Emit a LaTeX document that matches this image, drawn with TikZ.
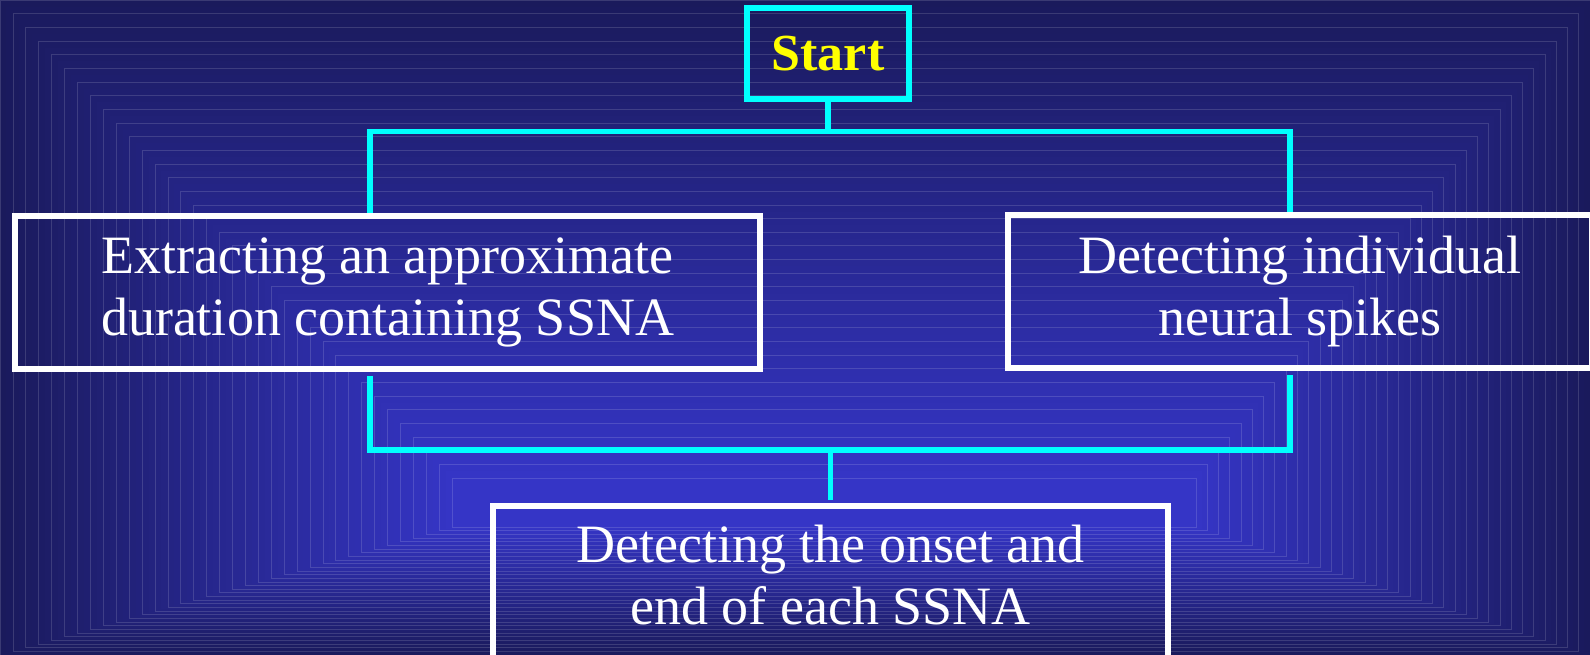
\documentclass[tikz,border=0pt]{standalone}
\usepackage{fontspec}
\setmainfont{Liberation Serif}
\usetikzlibrary{positioning}

\definecolor{bgout}{HTML}{1A1A5C}
\definecolor{bgin}{HTML}{3535C6}
\definecolor{linkcyan}{HTML}{00FFFF}
\definecolor{startyellow}{HTML}{FFFF00}

\begin{document}
\begin{tikzpicture}[x=1pt,y=-1pt,
    whitebox/.style={draw=white,line width=5.5pt,align=center,text=white,
        font=\fontsize{54}{62}\selectfont,inner sep=0pt},
    boxtext/.style={align=center,text=white,font=\fontsize{54}{62}\selectfont},
    startbox/.style={draw=linkcyan,line width=5.5pt,text=startyellow,
        font=\fontsize{52}{60}\selectfont\bfseries,
        minimum width=162pt,minimum height=91pt,inner sep=0pt},
    link/.style={draw=linkcyan,line width=5.5pt}]
    \useasboundingbox (0,0) rectangle (1590,655);
    \clip (0,0) rectangle (1590,655);
    %% background, rectangle gradient
    \foreach \i [evaluate=\i as \s using \i/70, evaluate=\i as \p using 100*\i/70] in {0,...,70} {
        \fill[bgin!\p!bgout] ({452*\s},{478*\s}) rectangle ({1590-394*\s},{655-128*\s});
    }
    \foreach \i [evaluate=\i as \s using \i/35] in {0,...,35} {
        \draw[white,opacity=0.14,line width=0.7pt] ({452*\s},{478*\s}) rectangle ({1590-394*\s},{655-128*\s});
    }
    %% boxes
    \node[startbox] (start) at (828,53.5) {Start};
    \node[whitebox,minimum width=745pt,minimum height=153pt] (extract) at (387.5,292.5)
        {Extracting an approximate\\duration containing SSNA};
    \node[whitebox,minimum width=584pt,minimum height=153pt] (spikes) at (1300,291.5)
        {Detecting individual\\neural spikes};
    \node[whitebox,minimum width=675pt,minimum height=200pt,anchor=north] (onset) at (830.5,503) {};
    \node[boxtext] (onsettext) at ([yshift=-72pt]onset.north)
        {Detecting the onset and\\end of each SSNA};
    %% links
    \coordinate (splitL) at (370,131.5);
    \coordinate (splitR) at (1290,131.5);
    \coordinate (joinL) at (370,450);
    \coordinate (joinR) at (1290,450);
    \draw[link] (start.south) -- (start.south |- splitL);
    \draw[link] (extract.north -| splitL) -- (splitL) -- (splitR) -- (spikes.north -| splitR);
    \draw[link] ([yshift=-4pt]extract.south -| joinL) -- (joinL) -- (joinR) -- ([yshift=-4pt]spikes.south -| joinR);
    \draw[link] ([yshift=3pt]onset.north) -- (onset.north |- joinL);
\end{tikzpicture}
\end{document}
